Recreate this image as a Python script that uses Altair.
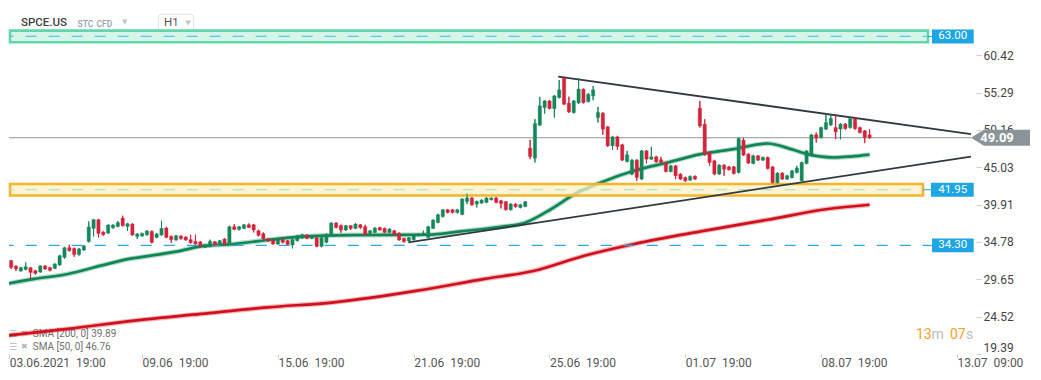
import altair as alt
import pandas as pd

# ---------------- data ----------------
opens = [32.75, 32.21, 31.48, 30.79, 31.01, 31.25, 30.83, 30.66, 31.48, 31.25,
         31.15, 31.62, 32.66, 33.99, 33.89, 33.07, 33.67, 34.85, 36.64, 37.83,
         36.14, 36.00, 36.73, 36.91, 38.06, 36.91, 37.24, 35.54, 35.59, 35.77,
         36.23, 35.40, 35.73, 36.69, 35.54, 35.05, 35.59, 35.46, 35.09, 34.85,
         34.77, 34.03, 34.17, 34.81, 34.36, 35.18, 34.50, 36.87, 36.50, 36.64,
         37.14, 37.14, 36.32, 35.91, 35.22, 35.05, 34.50, 35.09, 34.95, 34.36,
         34.95, 35.32, 35.73, 35.27, 35.36, 34.17, 34.72, 35.77, 37.38, 37.05,
         36.42, 37.01, 36.64, 37.14, 36.87, 35.95, 36.09, 36.77, 36.64, 36.09,
         36.32, 35.95, 35.27, 34.91, 35.09, 35.63, 35.77, 35.40, 36.64, 37.46,
         38.28, 39.20, 39.20, 38.83, 38.56, 40.34, 40.81, 39.98, 40.12, 40.20,
         40.57, 40.81, 40.44, 40.30, 39.20, 39.98, 39.52, 39.65, 47.66, 46.29,
         50.82, 53.23, 54.15, 53.10, 54.61, 57.27, 53.84, 52.55, 53.88, 55.76,
         54.06, 54.84, 51.86, 52.47, 50.59, 47.98, 49.21, 48.12, 45.83, 44.10,
         46.02, 43.41, 47.29, 46.15, 46.47, 46.06, 45.69, 44.45, 45.24, 44.10,
         43.63, 43.27, 43.82, 53.15, 50.95, 47.06, 45.92, 44.10, 45.33, 45.09,
         45.09, 44.32, 48.76, 46.84, 45.55, 46.61, 46.02, 46.38, 45.09, 42.93,
         44.23, 43.41, 43.63, 44.32, 43.18, 45.55, 46.61, 49.49, 49.12, 50.27,
         50.86, 50.49, 50.27, 50.96, 50.49, 51.73, 50.49, 50.04, 49.49]
highs = [32.89, 32.30, 31.55, 31.35, 31.97, 31.35, 30.95, 31.60, 31.60, 31.35,
         31.85, 33.00, 34.10, 34.40, 34.00, 33.95, 34.35, 37.60, 37.95, 37.95,
         36.25, 37.20, 37.20, 37.65, 38.38, 37.40, 37.35, 36.00, 36.05, 36.40,
         36.35, 36.00, 37.69, 36.85, 35.65, 35.75, 35.70, 35.55, 35.77, 35.77,
         34.90, 34.50, 35.09, 34.90, 35.05, 35.30, 37.00, 37.24, 36.95, 37.24,
         37.32, 37.25, 36.45, 36.09, 35.30, 35.15, 35.20, 35.20, 35.05, 35.20,
         35.75, 35.90, 35.87, 35.75, 35.45, 35.45, 36.00, 37.50, 37.50, 37.15,
         37.10, 37.10, 37.35, 37.25, 37.14, 36.40, 36.80, 36.85, 36.75, 36.65,
         36.40, 36.09, 35.35, 35.45, 35.75, 35.95, 36.32, 37.00, 37.90, 38.65,
         39.30, 39.30, 39.30, 39.30, 40.80, 41.44, 40.95, 40.45, 40.65, 40.95,
         40.90, 40.95, 40.55, 40.40, 40.10, 40.10, 40.00, 40.40, 48.80, 51.64,
         54.70, 54.25, 54.25, 54.95, 57.03, 57.49, 54.74, 54.25, 57.27, 55.85,
         55.21, 56.21, 53.33, 52.60, 50.70, 49.35, 49.35, 48.25, 47.29, 46.15,
         46.15, 47.40, 47.40, 47.84, 46.60, 46.47, 45.80, 45.35, 45.35, 44.20,
         43.75, 43.90, 43.90, 54.15, 51.64, 47.15, 46.05, 45.45, 45.45, 45.20,
         45.20, 49.10, 49.12, 46.95, 46.75, 46.70, 46.50, 46.50, 45.20, 44.35,
         44.35, 44.00, 44.65, 45.24, 45.80, 47.40, 49.60, 49.80, 50.60, 52.33,
         52.33, 52.33, 51.10, 51.10, 52.00, 51.85, 50.60, 50.15, 50.27]
lows = [31.89, 31.07, 30.79, 30.70, 30.90, 29.70, 30.30, 30.55, 30.95, 30.74,
        31.05, 31.50, 32.50, 33.45, 32.75, 32.90, 33.55, 34.70, 35.54, 35.40,
        35.65, 35.90, 36.60, 36.80, 36.90, 36.28, 35.60, 35.18, 35.50, 35.65,
        34.58, 35.30, 35.60, 35.30, 34.67, 34.95, 35.10, 34.95, 34.55, 34.40,
        34.05, 33.95, 34.05, 34.25, 34.25, 34.40, 34.40, 36.40, 36.36, 36.55,
        36.70, 36.09, 35.55, 35.10, 34.80, 34.40, 34.40, 34.60, 34.35, 33.89,
        34.85, 35.20, 35.15, 35.15, 34.05, 34.05, 34.60, 35.65, 36.65, 36.05,
        36.30, 36.42, 36.55, 36.55, 35.70, 35.85, 36.00, 36.30, 36.00, 36.00,
        35.70, 34.95, 34.70, 34.80, 35.00, 35.55, 35.70, 35.30, 36.55, 37.35,
        38.15, 38.70, 38.70, 38.70, 38.45, 39.98, 39.75, 39.52, 40.00, 40.10,
        40.50, 40.10, 39.38, 39.10, 39.10, 39.50, 39.40, 39.55, 46.15, 45.69,
        50.70, 52.41, 53.00, 51.86, 54.50, 53.60, 52.50, 52.41, 53.75, 53.80,
        53.95, 54.25, 51.17, 49.49, 47.85, 47.43, 47.43, 45.90, 45.70, 43.95,
        43.18, 43.30, 45.55, 46.05, 45.65, 45.60, 44.35, 44.35, 43.41, 43.30,
        43.05, 43.15, 43.30, 50.49, 46.61, 45.24, 43.95, 44.00, 43.87, 44.60,
        44.05, 44.20, 46.60, 45.50, 45.45, 45.90, 45.90, 44.75, 42.80, 42.80,
        43.30, 43.30, 43.50, 44.20, 42.90, 45.45, 46.50, 48.43, 49.00, 50.15,
        50.70, 48.89, 48.89, 50.20, 50.35, 50.20, 49.70, 48.35, 48.95]
closes = [31.97, 31.29, 31.07, 31.25, 31.38, 30.60, 30.46, 31.48, 31.07, 30.88,
          31.75, 32.89, 33.99, 33.58, 33.07, 33.81, 34.22, 36.83, 37.83, 35.95,
          35.77, 37.10, 37.10, 37.42, 37.01, 37.28, 35.73, 35.87, 35.95, 36.28,
          34.72, 35.87, 36.64, 35.40, 35.09, 35.63, 35.22, 35.05, 34.67, 34.50,
          34.17, 34.40, 34.85, 34.36, 34.95, 34.50, 36.87, 36.50, 36.87, 37.14,
          36.77, 36.42, 35.68, 35.22, 34.91, 34.50, 35.09, 34.72, 34.44, 35.09,
          35.63, 35.77, 35.27, 35.63, 34.17, 35.36, 35.73, 37.38, 36.77, 36.42,
          37.01, 36.64, 37.24, 36.77, 35.81, 36.32, 36.69, 36.42, 36.09, 36.55,
          35.81, 35.05, 34.81, 35.36, 35.63, 35.87, 35.98, 36.87, 37.79, 38.51,
          39.20, 38.83, 38.83, 39.20, 40.67, 40.81, 39.89, 40.34, 40.53, 40.81,
          40.81, 40.20, 40.07, 39.20, 39.98, 39.61, 39.89, 40.30, 46.51, 51.04,
          53.47, 54.15, 53.10, 54.84, 55.66, 53.70, 52.64, 54.15, 55.76, 53.92,
          55.07, 55.66, 52.55, 50.27, 47.98, 49.21, 47.88, 46.02, 46.75, 46.02,
          43.63, 47.29, 46.15, 46.47, 45.79, 45.69, 44.45, 45.24, 43.87, 43.41,
          43.18, 43.77, 43.41, 50.72, 46.84, 45.69, 44.10, 45.33, 44.78, 44.69,
          44.18, 48.98, 46.70, 45.61, 46.61, 46.02, 46.38, 44.87, 42.93, 44.23,
          43.41, 43.87, 44.55, 44.92, 45.69, 47.29, 49.49, 49.04, 50.49, 51.17,
          51.73, 49.90, 50.96, 50.35, 51.73, 50.35, 49.80, 49.12, 49.09]

sma50_idx = [0, 5.8, 12.7, 19.5, 25, 29.8, 35, 40.1, 47, 53.9, 60.8, 71.1, 86.9,
             93.7, 102, 106.8, 112.3, 117.5, 122.6, 129.4, 136.4, 143.2, 150,
             157, 161.8, 165.2, 170.7, 174.2, 178]
sma50_val = [29.01, 29.70, 30.38, 31.52, 32.41, 32.89, 33.44, 34.17, 34.50, 35.05,
             35.50, 35.73, 35.77, 36.23, 36.87, 37.38, 39.27, 41.46, 42.95, 44.55,
             45.69, 46.84, 47.53, 48.30, 47.53, 46.84, 46.38, 46.51, 46.76]
sma200_idx = [0, 12.7, 26.4, 40.1, 53.9, 67.6, 84.8, 98.6, 108.9, 119.2, 129.5,
              143.2, 157, 169.4, 178]
sma200_val = [21.92, 22.84, 23.97, 24.89, 25.80, 26.49, 28.09, 29.70, 30.83, 32.89,
              34.50, 36.23, 37.83, 39.30, 39.89]

upper_idx = [113.8, 198.9]
upper_val = [57.49, 49.59]
lower_idx = [82.9, 198.9]
lower_val = [34.72, 46.51]

resist_level = 63.00
resist_band = [62.2, 63.8]
support_level = 41.95
support_band = [41.16, 42.74]
low_level = 34.30

x_tick_idx = [0.6, 28, 56, 84, 112, 140, 168, 196]
x_tick_labels = ["03.06.2021\u00a0\u00a019:00", "09.06\u00a0\u00a019:00", "15.06\u00a0\u00a019:00",
                 "21.06\u00a0\u00a019:00", "25.06\u00a0\u00a019:00", "01.07\u00a0\u00a019:00",
                 "08.07\u00a0\u00a019:00", "13.07\u00a0\u00a009:00"]
y_ticks = [19.39, 24.52, 29.65, 34.78, 39.91, 45.03, 50.16, 55.29, 60.42]

# ---------------- styling ----------------
GREEN = "#16875a"
RED = "#d3243b"
SMA50_C = "#0f8654"
SMA200_C = "#d10f1d"
BLUE = "#1ea5e3"
FONT = "Roboto"

xs = alt.Scale(domain=[0.557, 199.94], nice=False, zero=False)
ys = alt.Scale(domain=[19.39, 66.91], nice=False, zero=False)

n = len(closes)
df = pd.DataFrame({"i": list(range(n)), "open": opens, "high": highs,
                   "low": lows, "close": closes})
df["dir"] = ["up" if c >= o else "down" for o, c in zip(opens, closes)]
col_scale = alt.Scale(domain=["up", "down"], range=[GREEN, RED])

label_expr = "''"
for v, lab in reversed(list(zip(x_tick_idx, x_tick_labels))):
    label_expr = f"datum.value == {v} ? '{lab}' : ({label_expr})"

x_axis = alt.Axis(values=x_tick_idx, labelExpr=label_expr, labelAlign="left",
                  labelFlush=False, labelOverlap=False, labelBound=False,
                  tickColor="#d0d0d0", tickSize=4, labelPadding=-1, domain=False,
                  grid=False, labelColor="#555555", labelFont=FONT,
                  labelFontSize=12, title=None, orient="bottom")
y_axis = alt.Axis(orient="right", values=y_ticks, format=".2f", title=None,
                  grid=False, domain=False, tickColor="#cccccc", tickSize=5,
                  labelPadding=2, labelColor="#444444", labelFont=FONT,
                  labelFontSize=12, labelFlush=True, labelOverlap=False)


def X(field):
    return alt.X(field, type="quantitative", scale=xs, axis=x_axis, title=None)


def Y(field):
    return alt.Y(field, type="quantitative", scale=ys, axis=y_axis, title=None)


def txt(s, x, y, size, color, weight="normal", align="left", font=FONT):
    return alt.Chart(pd.DataFrame({"t": [s]})).mark_text(
        align=align, baseline="middle", fontSize=size, color=color,
        fontWeight=weight, font=font).encode(
        text="t:N", x=alt.value(x), y=alt.value(y))


def hval(v, x, x2, color, width=1.0, dash=None, offset=0):
    kw = {"color": color, "strokeWidth": width}
    if dash:
        kw["strokeDash"] = dash
        kw["strokeDashOffset"] = offset
    return alt.Chart(pd.DataFrame({"v": [v]})).mark_rule(**kw).encode(
        y=Y("v"), x=alt.value(x), x2=alt.value(x2))


# header
h1_box = alt.Chart(pd.DataFrame({"a": [0]})).mark_rect(
    fill="white", stroke="#dedede", strokeWidth=1, cornerRadius=3).encode(
    x=alt.value(149.3), x2=alt.value(184.7), y=alt.value(6.3), y2=alt.value(22.7))
header = [
    txt("SPCE.US", 12, 15, 11.5, "#3c4043", weight=500),
    txt("STC", 68.5, 16, 8.5, "#94a1ae", weight=500),
    txt("CFD", 87.5, 16, 8.5, "#94a1ae", weight=500),
    txt("\u25bc", 113, 14, 7, "#c6c6c6", font="DejaVu Sans"),
    h1_box,
    txt("H1", 155, 15, 11.5, "#555555"),
    txt("\u25bc", 176.5, 15, 7, "#c6c6c6", font="DejaVu Sans"),
]

# legends (drawn below SMA lines)
legends = [
    txt("\u2630", 0, 326, 9, "#b5b5b5", font="DejaVu Sans"),
    txt("\u2716", 12, 326, 8, "#b5b5b5", font="DejaVu Sans"),
    txt(f"SMA [200, 0] {sma200_val[-1]:.2f}", 23.7, 326, 10, "#6f6f6f"),
    txt("\u2630", 0, 338.7, 9, "#b5b5b5", font="DejaVu Sans"),
    txt("\u2716", 12, 338.7, 8, "#b5b5b5", font="DejaVu Sans"),
    txt(f"SMA [50, 0] {sma50_val[-1]:.2f}", 23.7, 338.7, 10, "#6f6f6f"),
]


def band(lo, hi, x2, stroke, fill, opacity):
    return alt.Chart(pd.DataFrame({"lo": [lo], "hi": [hi]})).mark_rect(
        stroke=stroke, strokeWidth=2.6, fill=fill, fillOpacity=opacity).encode(
        y=Y("lo"), y2="hi:Q", x=alt.value(1), x2=alt.value(x2))


def sma_layers(idx, val, color):
    d = pd.DataFrame({"i": idx, "v": val})
    base = alt.Chart(d).encode(x=X("i"), y=Y("v"))
    return [base.mark_line(color=color, strokeWidth=5, opacity=0.3, clip=True,
                           interpolate="monotone"),
            base.mark_line(color=color, strokeWidth=2.7, clip=True,
                           interpolate="monotone")]


def trend(idx, val):
    d = pd.DataFrame({"i": idx, "v": val})
    return alt.Chart(d).mark_line(color="#2f3a40", strokeWidth=1.8, clip=True).encode(
        x=X("i"), y=Y("v"))


wicks = alt.Chart(df).mark_rule(strokeWidth=1, clip=True).encode(
    x=X("i"), y=Y("low"), y2="high:Q",
    color=alt.Color("dir:N", scale=col_scale, legend=None))
bodies = alt.Chart(df).transform_calculate(
    x0="datum.i - 0.34", x1="datum.i + 0.34").mark_rect(
    clip=True, strokeWidth=0.4).encode(
    x=X("x0"), x2="x1:Q", y=Y("open"), y2="close:Q",
    color=alt.Color("dir:N", scale=col_scale, legend=None),
    stroke=alt.Stroke("dir:N", scale=col_scale, legend=None))


def label_box(v, x1, text):
    d = pd.DataFrame({"lo": [v - 0.95], "hi": [v + 0.95], "v": [v], "t": [text]})
    box = alt.Chart(d).mark_rect(fill=BLUE).encode(
        y=Y("lo"), y2="hi:Q", x=alt.value(x1), x2=alt.value(964.7))
    t = alt.Chart(d).mark_text(color="white", fontSize=11.5, font=FONT,
                               align="center", baseline="middle").encode(
        y=Y("v"), x=alt.value(943.8), text="t:N")
    return [box, t]


last = closes[-1]
tag_path = "M-1,0L-0.56,-0.271L1,-0.271L1,0.271L-0.56,0.271Z"
tag_df = pd.DataFrame({"v": [last], "t": [f"{last:.2f}"]})
tag = alt.Chart(tag_df).mark_point(shape=tag_path, filled=True, size=3481,
                                   color="#8a9398", opacity=1, strokeWidth=0).encode(
    y=Y("v"), x=alt.value(991.5))
tag_text = alt.Chart(tag_df).mark_text(color="white", fontSize=13, fontWeight="bold",
                                       font=FONT, align="center", baseline="middle").encode(
    y=Y("v"), x=alt.value(988), text="t:N")

timer = [
    txt("13", 907, 327, 14, "#f6a120"),
    txt("m", 922.5, 327, 14, "#b9bdc1"),
    txt("07", 941, 327, 14, "#f6a120"),
    txt("s", 957, 327, 14, "#b9bdc1"),
]

layers = [wicks] + header + legends
layers += sma_layers(sma200_idx, sma200_val, SMA200_C)
layers += sma_layers(sma50_idx, sma50_val, SMA50_C)
layers += [
    band(resist_band[0], resist_band[1], 919, "#64d5aa", "#d2f3e5", 0.9),
    hval(resist_level, 0, 919, "#5cc6e8", 1.2, [11, 12], 6.3),
    hval(resist_level, 919, 923, BLUE, 1),
    band(support_band[0], support_band[1], 914, "#f6b42c", "#faf1c4", 0.75),
    hval(support_level, 0, 914, "#a6d9c4", 1.2, [11, 12], 6.3),
    hval(support_level, 914, 922, BLUE, 1),
    hval(low_level, 0, 919, "#29a7e2", 1.2, [11, 12], 6.3),
    hval(low_level, 919, 923, BLUE, 1),
    hval(last, 0, 962, "#8b9499", 1),
    trend(upper_idx, upper_val),
    trend(lower_idx, lower_val),
    wicks, bodies,
]
layers += label_box(resist_level, 923, f"{resist_level:.2f}")
layers += label_box(support_level, 922, f"{support_level:.2f}")
layers += label_box(low_level, 923, f"{low_level:.2f}")
layers += [tag, tag_text] + timer

chart = alt.layer(*layers).properties(
    width=967, height=346, padding=0, background="white"
).configure(font=FONT).configure_view(stroke=None, strokeWidth=0)

chart.save("out.html", embed_options={"renderer": "svg", "actions": False})
